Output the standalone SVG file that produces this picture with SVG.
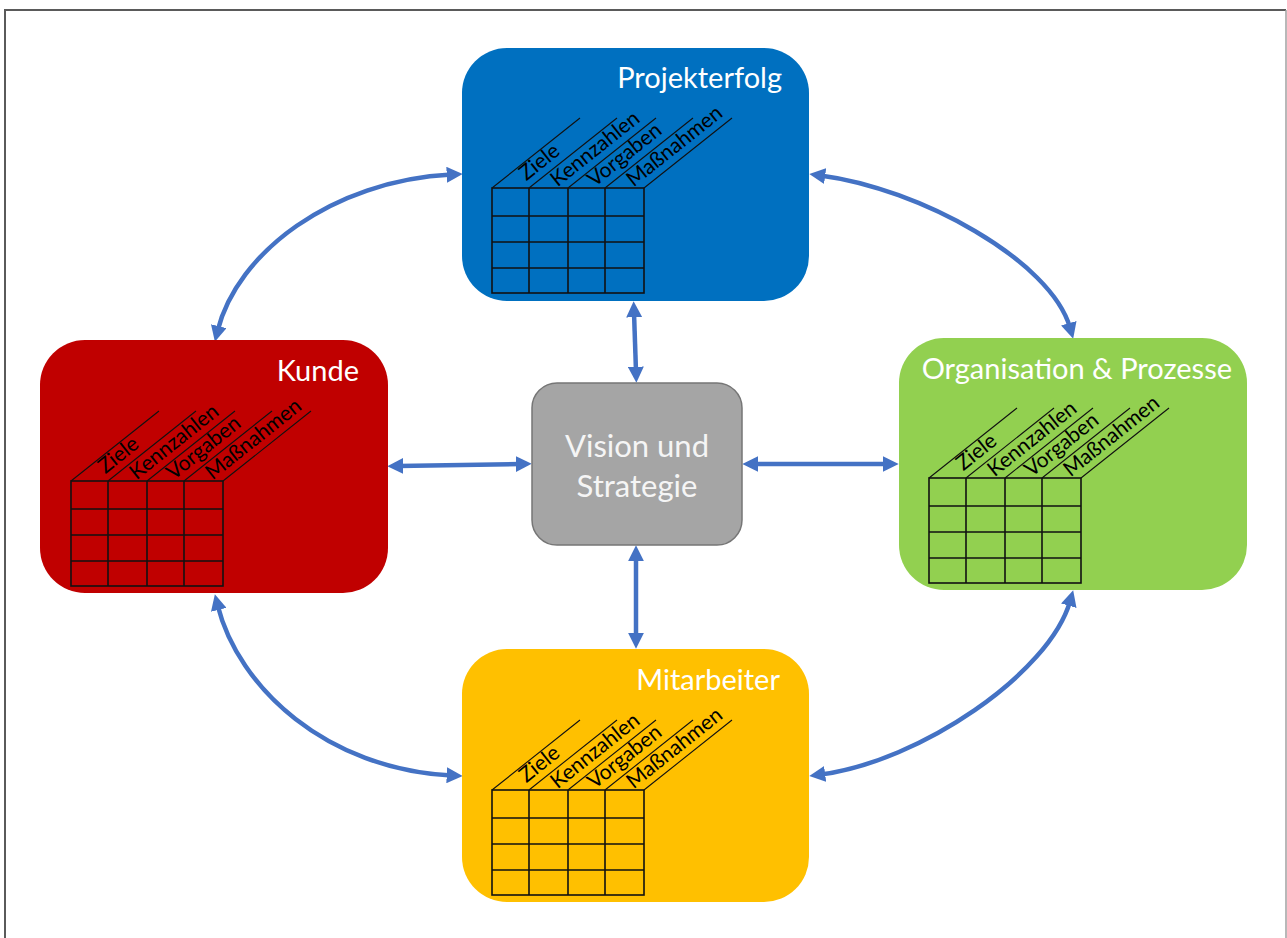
<svg xmlns="http://www.w3.org/2000/svg" xmlns:xlink="http://www.w3.org/1999/xlink" width="1287" height="938" viewBox="0 0 1287 938">
  <style>
    .title { font-family: Lato, "Open Sans", "Liberation Sans", sans-serif; font-size: 29px; fill: #ffffff; }
    .center { font-family: Lato, "Open Sans", "Liberation Sans", sans-serif; font-size: 31px; fill: #f5f5f5; }
    .label { font-family: Lato, "Open Sans", "Liberation Sans", sans-serif; font-size: 21px; fill: #000000; }
    .grid { fill: none; stroke: #111111; stroke-width: 1.6; }
    .diag { fill: none; stroke: #111111; stroke-width: 1.1; }
    .link { fill: none; stroke: #4472C4; stroke-width: 4.5; marker-start: url(#head); marker-end: url(#head); }
  </style>
  <defs>
    <marker id="head" viewBox="0 0 10 10" refX="3" refY="5" markerWidth="16" markerHeight="16" markerUnits="userSpaceOnUse" orient="auto-start-reverse">
      <path d="M0,0 L10,5 L0,10 z" fill="#4472C4"/>
    </marker>
    <!-- 4x4 scorecard grid with slanted column headers -->
    <g id="grid">
      <rect class="grid" x="0" y="0" width="152" height="105"/>
      <path class="grid" d="M37,0 V105 M76,0 V105 M113,0 V105 M0,28 H152 M0,54 H152 M0,80 H152"/>
      <path class="diag" d="M0,0 l88,-70 M37,0 l88,-70 M76,0 l88,-70 M113,0 l88,-70 M152,0 l88,-70"/>
    </g>
  </defs>

  <rect x="0" y="0" width="1287" height="938" fill="#ffffff"/>
  <!-- page frame -->
  <path d="M5,939 V10 H1286" fill="none" stroke="#5a5a5a" stroke-width="2"/>
  <path d="M1286,10 V939" fill="none" stroke="#a0a0a0" stroke-width="1.5"/>

  <g id="connectors">
    <path class="link" d="M217.6,330.8 C237,253 331.5,180.5 451.5,174.5"/>
    <path class="link" d="M820.4,175.4 C919.6,188.3 1050.9,260.6 1070.1,327.9"/>
    <path class="link" d="M217.6,605.2 C238.3,687.7 326.6,769.3 451.5,775.5"/>
    <path class="link" d="M820.4,774.6 C919.6,761.7 1049.5,673.3 1070.1,601.1"/>
    <path class="link" d="M398.5,466 L520.5,464"/>
    <path class="link" d="M753.5,464 L887.5,464"/>
    <path class="link" d="M634,312.5 L636,371.5"/>
    <path class="link" d="M636,556.5 L636,637.5"/>
  </g>

  <g id="node-projekterfolg">
    <rect x="462" y="48" width="347" height="253" rx="45" ry="45" fill="#0070C0"/>
    <text class="title" x="782" y="88" text-anchor="end">Projekterfolg</text>
    <g transform="translate(492,188)">
      <use xlink:href="#grid"/>
      <text class="label" transform="translate(37,0) rotate(-38.5)" x="2" y="-7">Ziele</text>
      <text class="label" transform="translate(76,0) rotate(-38.5)" x="-8" y="-7">Kennzahlen</text>
      <text class="label" transform="translate(113,0) rotate(-38.5)" x="-8" y="-7">Vorgaben</text>
      <text class="label" transform="translate(152,0) rotate(-38.5)" x="-8" y="-7">Maßnahmen</text>
    </g>
  </g>

  <g id="node-kunde">
    <rect x="40" y="340" width="348" height="253" rx="45" ry="45" fill="#C00000"/>
    <text class="title" x="359" y="381" text-anchor="end">Kunde</text>
    <g transform="translate(71,481)">
      <use xlink:href="#grid"/>
      <text class="label" transform="translate(37,0) rotate(-38.5)" x="2" y="-7">Ziele</text>
      <text class="label" transform="translate(76,0) rotate(-38.5)" x="-8" y="-7">Kennzahlen</text>
      <text class="label" transform="translate(113,0) rotate(-38.5)" x="-8" y="-7">Vorgaben</text>
      <text class="label" transform="translate(152,0) rotate(-38.5)" x="-8" y="-7">Maßnahmen</text>
    </g>
  </g>

  <g id="node-organisation">
    <rect x="899" y="338" width="348" height="252" rx="45" ry="45" fill="#92D050"/>
    <text class="title" x="1232" y="379" text-anchor="end">Organisation &amp; Prozesse</text>
    <g transform="translate(929,478)">
      <use xlink:href="#grid"/>
      <text class="label" transform="translate(37,0) rotate(-38.5)" x="2" y="-7">Ziele</text>
      <text class="label" transform="translate(76,0) rotate(-38.5)" x="-8" y="-7">Kennzahlen</text>
      <text class="label" transform="translate(113,0) rotate(-38.5)" x="-8" y="-7">Vorgaben</text>
      <text class="label" transform="translate(152,0) rotate(-38.5)" x="-8" y="-7">Maßnahmen</text>
    </g>
  </g>

  <g id="node-mitarbeiter">
    <rect x="462" y="649" width="347" height="253" rx="45" ry="45" fill="#FFC000"/>
    <text class="title" x="780" y="690" text-anchor="end">Mitarbeiter</text>
    <g transform="translate(492,790)">
      <use xlink:href="#grid"/>
      <text class="label" transform="translate(37,0) rotate(-38.5)" x="2" y="-7">Ziele</text>
      <text class="label" transform="translate(76,0) rotate(-38.5)" x="-8" y="-7">Kennzahlen</text>
      <text class="label" transform="translate(113,0) rotate(-38.5)" x="-8" y="-7">Vorgaben</text>
      <text class="label" transform="translate(152,0) rotate(-38.5)" x="-8" y="-7">Maßnahmen</text>
    </g>
  </g>

  <g id="node-vision">
    <rect x="532" y="383" width="210" height="162" rx="25" ry="25" fill="#A5A5A5" stroke="#767676" stroke-width="1.5"/>
    <text class="center" x="637" y="457" text-anchor="middle">Vision und</text>
    <text class="center" x="637" y="497" text-anchor="middle">Strategie</text>
  </g>
</svg>
